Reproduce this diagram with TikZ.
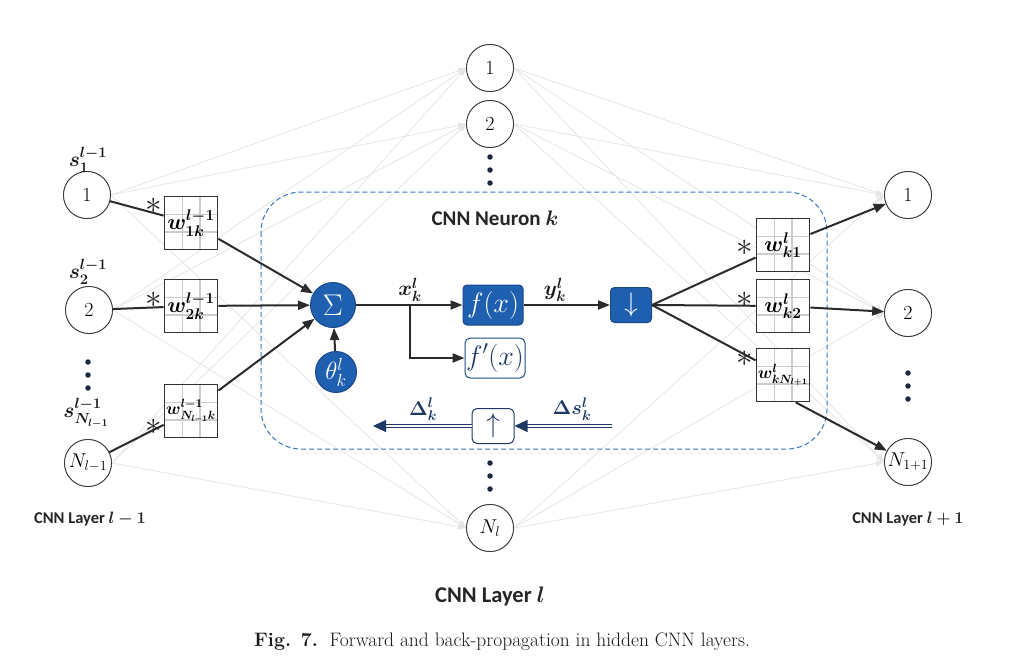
\RequirePackage{fix-cm}
\documentclass[tikz,border=0pt]{standalone}
\usepackage{amsmath,bm}
\usepackage{fontspec}
\newfontfamily\carlito{Carlito}
\usetikzlibrary{arrows.meta,calc}
\newcommand\fsz[1]{\fontsize{#1}{#1}\selectfont}
\definecolor{nfill}{HTML}{1F5FAF}
\definecolor{nborder}{HTML}{1A4A8A}
\definecolor{dashc}{HTML}{3A76C0}
\definecolor{navy}{HTML}{1F3864}
\definecolor{linec}{HTML}{2B2B2B}
\definecolor{dotc}{HTML}{1C2840}
\begin{document}
\begin{tikzpicture}[x=1pt,y=-1pt,
  neuron/.style={circle, draw=black!80, fill=white, line width=0.8pt, minimum size=47pt, inner sep=0pt, font=\fsz{20}},
  bneuron/.style={circle, draw=nborder, fill=nfill, line width=1pt, minimum size=45pt, inner sep=0pt, text=white, font=\fsz{30}},
  bbox/.style={rectangle, rounded corners=4pt, draw=nborder, fill=nfill, line width=1pt, minimum width=60pt, minimum height=40pt, inner sep=0pt, text=white, font=\fsz{28}},
  obox/.style={rectangle, rounded corners=5pt, draw=nborder, fill=white, line width=1pt, minimum width=60pt, minimum height=40pt, inner sep=0pt, text=navy, font=\fsz{28}},
  wbox/.style={rectangle, draw=black!80, fill=white, line width=1.8pt, minimum size=53pt, inner sep=0pt, font=\fsz{22},
    path picture={
      \foreach \s in {17.7,35.3}{
        \draw[black!20, line width=1.4pt] ([xshift=\s pt]path picture bounding box.north west) -- ([xshift=\s pt]path picture bounding box.south west);
        \draw[black!20, line width=1.4pt] ([yshift=-\s pt]path picture bounding box.north west) -- ([yshift=-\s pt]path picture bounding box.north east);
      }}},
  conn/.style={draw=linec, line width=2pt},
  arr/.style={conn, -{Triangle[length=12pt,width=9pt]}},
  faint/.style={draw=black!10, line width=0.8pt, -{Triangle[length=8pt,width=6pt]}},
  back/.style={draw=navy, double=white, double distance=2pt, line width=1.2pt, -{Triangle[length=13pt,width=12pt]}},
  lbl/.style={font=\fsz{21}, text=black!90},
  star/.style={font=\fsz{20}, text=black!85, inner sep=0pt},
  dotn/.style={circle, fill=dotc, inner sep=0pt, minimum size=5.5pt},
  layerlbl/.style={font=\carlito\bfseries\fsz{16.5}, text=black!85}
]
\useasboundingbox (0,0) rectangle (1027,666);

% layer nodes
\node[neuron] (M1) at (490,68) {1};
\node[neuron] (M2) at (490,124) {2};
\node[neuron] (MN) at (490,528) {$N_l$};
\node[neuron] (L1) at (87,195) {1};
\node[neuron] (L2) at (89,310) {2};
\node[neuron] (LN) at (88,463) {$N_{l-1}$};
\node[neuron] (R1) at (908,195) {1};
\node[neuron] (R2) at (908,313) {2};
\node[neuron] (RN) at (908,462) {$N_{1+1}$};

% faint full connections
\foreach \a in {L1,L2,LN}{\foreach \b in {M1,M2,MN}{\draw[faint] (\a.east) -- (\b.west);}}
\foreach \a in {M1,M2,MN}{\foreach \b in {R1,R2,RN}{\draw[faint] (\a.east) -- (\b.west);}}

% redraw neurons on top of faint lines
\node[neuron] at (M1) {1};
\node[neuron] at (M2) {2};
\node[neuron] at (MN) {$N_l$};
\node[neuron] at (L1) {1};
\node[neuron] at (L2) {2};
\node[neuron] at (LN) {$N_{l-1}$};
\node[neuron] at (R1) {1};
\node[neuron] at (R2) {2};
\node[neuron] at (RN) {$N_{1+1}$};

% dots
\foreach \y in {157,170,183}{\node[dotn] at (490,\y) {};}
\foreach \y in {463,476,489}{\node[dotn] at (490,\y) {};}
\foreach \y in {362,375,388}{\node[dotn] at (88,\y) {};}
\foreach \y in {373,386,399}{\node[dotn] at (908,\y) {};}

% neuron frame
\draw[dashc, line width=1pt, dash pattern=on 5pt off 3pt, rounded corners=40pt] (261,192) rectangle (827,449);
\node[font=\carlito\bfseries\fsz{21}, text=black!85] (title) at (495,218) {CNN Neuron $\bm{k}$};

% weight boxes
\node[wbox] (W1) at (191,223) {$\bm{w^{l-1}_{1k}}$};
\node[wbox] (W2) at (191,306) {$\bm{w^{l-1}_{2k}}$};
\node[wbox, font=\fsz{17}] (WN) at (191,411) {$\bm{w^{l-1}_{N_{l-1}k}}$};
\node[wbox] (V1) at (783,245) {$\bm{w^{l}_{k1}}$};
\node[wbox] (V2) at (783,306) {$\bm{w^{l}_{k2}}$};
\node[wbox, font=\fsz{17}] (VN) at (783,375) {$\bm{w^{l}_{kN_{l+1}}}$};

% stars
\node[star] (st1) at (154,206) {\scalebox{1.65}{$\ast$}};
\node[star] (st2) at (154,300) {\scalebox{1.65}{$\ast$}};
\node[star] (st3) at (154,427) {\scalebox{1.65}{$\ast$}};
\node[star] (st4) at (745,248) {\scalebox{1.65}{$\ast$}};
\node[star] (st5) at (745,300) {\scalebox{1.65}{$\ast$}};
\node[star] (st6) at (745,359) {\scalebox{1.65}{$\ast$}};

% s labels
\node[lbl] (s1) at (88,160) {$\bm{s^{l-1}_1}$};
\node[lbl] (s2) at (88,272) {$\bm{s^{l-1}_2}$};
\node[lbl] (sN) at (86,413) {$\bm{s^{l-1}_{N_{l-1}}}$};

% neuron internals
\node[bneuron] (S) at (333,305) {$\Sigma$};
\node[bneuron, minimum size=41pt, font=\fsz{25}] (T) at (336,372) {$\theta^l_k$};
\node[bbox] (F) at (493,305) {$f(x)$};
\node[obox] (FP) at (495,358) {$f'(x)$};
\node[bbox, minimum width=41pt, minimum height=35pt, font=\fsz{27}] (D) at (631,305) {$\downarrow$};
\node[obox, text=navy, draw=navy, minimum width=42pt, minimum height=35pt, font=\fsz{27}] (U) at (493,426) {$\uparrow$};
\coordinate (br) at (410,305);
\coordinate (bs) at (612,426);
\coordinate (be) at (373,426);

% connectors
\draw[conn] (L1) -- (W1); \draw[arr] (W1) -- (S);
\draw[conn] (L2) -- (W2); \draw[arr] (W2) -- (S);
\draw[conn] (LN) -- (WN); \draw[arr] (WN) -- (S);
\draw[arr] (T) -- (S);
\draw[arr] (S) -- (F);
\draw[arr] (br) |- (FP.west);
\draw[arr] (F) -- (D);
\draw[conn] (D.east) -- (V1); \draw[arr] (V1) -- (R1);
\draw[conn] (D.east) -- (V2); \draw[arr] (V2) -- (R2);
\draw[conn] (D.east) -- (VN); \draw[arr] (VN.295) -- (RN);
\draw[back] (bs) -- (U);
\draw[back] (U) -- (be);

% signal labels
\node[lbl] (xl) at (410,290) {$\bm{x^l_k}$};
\node[lbl] (yl) at (555,290) {$\bm{y^l_k}$};
\node[lbl, text=navy, font=\fsz{20}] (dsl) at (572,409) {$\bm{\Delta s^l_k}$};
\node[lbl, text=navy, font=\fsz{20}] (dl) at (423,409) {$\bm{\Delta^l_k}$};

% layer labels
\node[layerlbl] (ll1) at (90,519) {CNN Layer $\bm{l-1}$};
\node[layerlbl] (ll3) at (908,519) {CNN Layer $\bm{l+1}$};
\node[layerlbl, font=\carlito\bfseries\fsz{22.5}] (ll2) at (490,596) {CNN Layer $\bm{l}$};

% caption
\node[font=\fsz{19.5}, text=black!90] (cap) at (502,642) {\textbf{Fig. 7.}\ \ Forward and back-propagation in hidden CNN layers.};
\end{tikzpicture}
\end{document}
